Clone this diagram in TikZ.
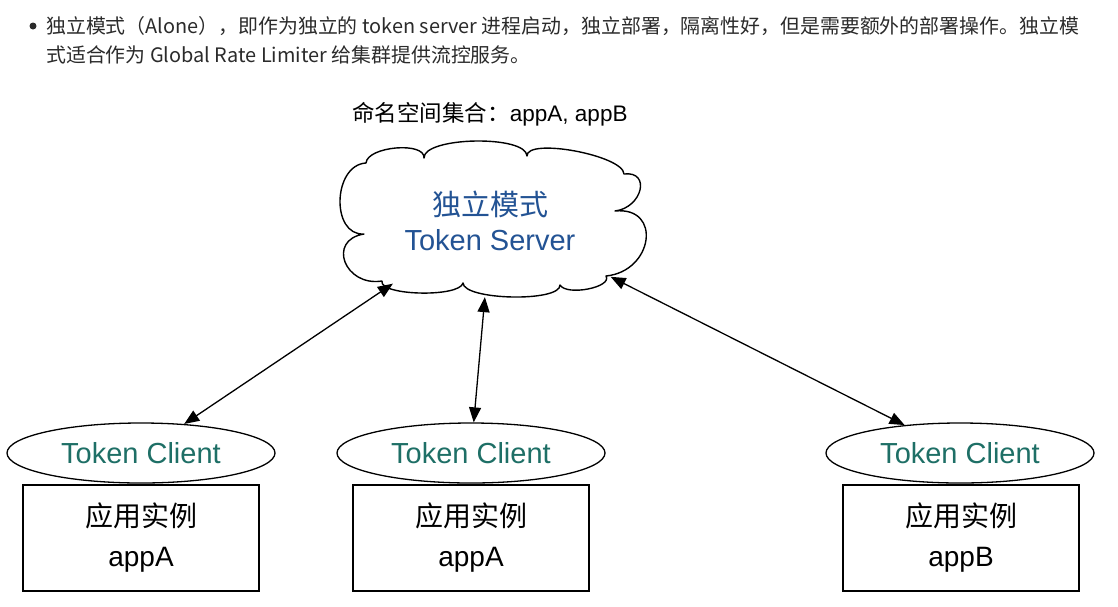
\documentclass[tikz,border=0pt]{standalone}
\usepackage{fontspec}
\setmainfont{Liberation Sans}
\newfontfamily\cjk{Noto Sans CJK SC}
\usetikzlibrary{shapes.geometric,arrows.meta}
\definecolor{para}{HTML}{2B2B2B}
\definecolor{srvblue}{HTML}{235394}
\definecolor{cliteal}{HTML}{1E6F66}
\tikzset{
  paratext/.style={anchor=west,inner sep=0pt,text=para,font=\cjk\fontsize{19.9}{22}\selectfont},
  srvarea/.style={ellipse,minimum width=356pt,minimum height=160pt,inner sep=0pt},
  cloudline/.style={draw=black,line width=1.4pt,line join=round},
  srvtext/.style={align=center,inner sep=0pt,text=srvblue,font=\fontsize{29}{35}\selectfont},
  client/.style={ellipse,draw=black,line width=1.3pt,minimum width=268pt,minimum height=60pt,inner sep=0pt,fill=white,text=cliteal,font=\fontsize{29}{34}\selectfont},
  appbox/.style={rectangle,draw=black,line width=1.4pt,minimum width=236pt,minimum height=106pt,inner sep=0pt,align=center,font=\fontsize{28}{40}\selectfont},
  link/.style={{Triangle[length=15pt,width=12pt]}-{Triangle[length=15pt,width=12pt]},line width=1.3pt,black}
}
\begin{document}
\begin{tikzpicture}[x=1pt,y=-1pt]
\useasboundingbox (0,0) rectangle (1118,606);
\fill[white] (0,0) rectangle (1118,606);
% paragraph
\fill[para] (33,26) circle (3.5pt);
\node[paratext] (p1) at (46,26) {独立模式（Alone），即作为独立的 token server 进程启动，独立部署，隔离性好，但是需要额外的部署操作。独立模};
\node[paratext] (p2) at (46,55) {式适合作为 Global Rate Limiter 给集群提供流控服务。};
% namespace label
\node[inner sep=0pt,font=\fontsize{22.5}{26}\selectfont] (ns) at (490,114) {{\cjk 命名空间集合：}appA, appB};
% server cloud
\node[srvarea] (srv) at (492,217) {};
\draw[cloudline] (364,234)
  .. controls (330.7,236) and (332.7,165) .. (366,163)
  .. controls (367.3,146.3) and (425.3,141.3) .. (424,158)
  .. controls (423.3,136.7) and (526.3,134.7) .. (527,156)
  .. controls (526.3,137.3) and (623.3,155.3) .. (624,174)
  .. controls (651.3,170.7) and (642.3,207.7) .. (615,211)
  .. controls (662.3,206.3) and (653.3,271.3) .. (606,276)
  .. controls (612.7,287.3) and (566.7,296.3) .. (560,285)
  .. controls (560.7,302.3) and (463.7,300.3) .. (463,283)
  .. controls (459.7,297.7) and (378.7,295.7) .. (382,281)
  .. controls (344.7,287) and (326.7,240) .. cycle;
\node[srvtext] (srvt) at (490,221) {{\cjk 独立模式}\\Token Server};
% clients and apps
\node[appbox] (a1) at (141,538) {{\cjk 应用实例}\\appA};
\node[appbox] (a2) at (471,538) {{\cjk 应用实例}\\appA};
\node[appbox] (a3) at (961,538) {{\cjk 应用实例}\\appB};
\node[client] (c1) at (141,453) {Token Client};
\node[client] (c2) at (471,453) {Token Client};
\node[client] (c3) at (960,453) {Token Client};
% links
\draw[link] (srv) -- (c1);
\draw[link] (srv) -- (c2);
\draw[link] (srv) -- (c3);
\end{tikzpicture}
\end{document}
